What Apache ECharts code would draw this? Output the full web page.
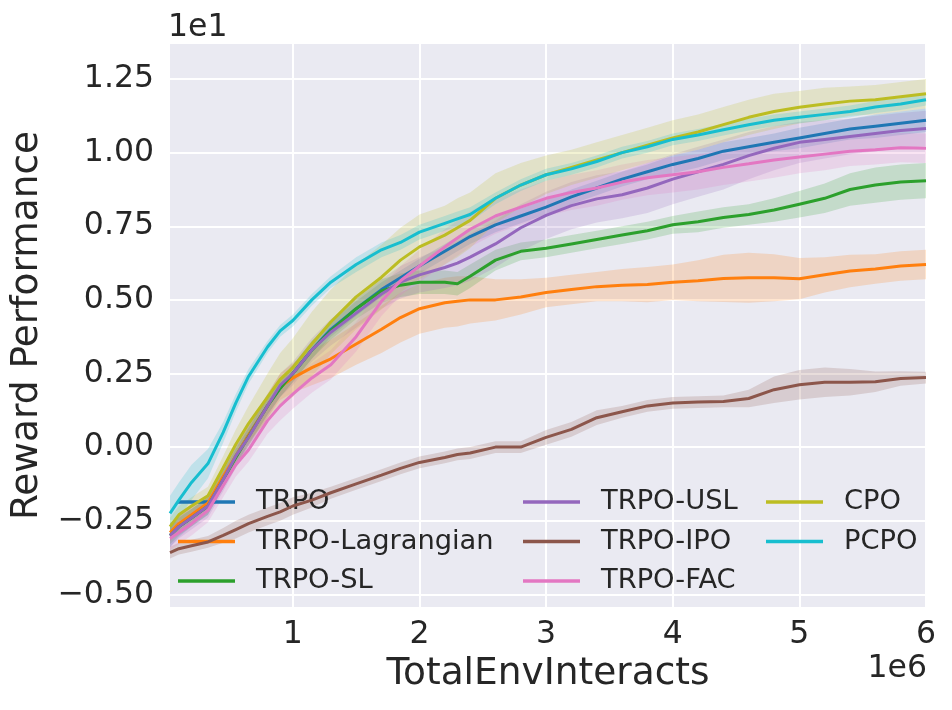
<!DOCTYPE html>
<html><head><meta charset="utf-8">
<script src="https://cdn.jsdelivr.net/npm/echarts@6/dist/echarts.min.js"></script>
<style>html,body{margin:0;padding:0;background:#fff}#c{width:952px;height:710px}</style>
</head><body><div id="c"></div>
<script>
// x positions in units of 1e6 env interacts
const steps = [0.03,0.1,0.2,0.33,0.45,0.55,0.65,0.8,0.9,1.0,1.15,1.3,1.5,1.7,1.85,2.0,2.2,2.3,2.4,2.6,2.8,3.0,3.2,3.4,3.6,3.8,4.0,4.2,4.4,4.6,4.8,5.0,5.2,5.4,5.6,5.8,6.0];
// reward values in units of 1e1
const trpo = [-0.30,-0.27,-0.24,-0.20,-0.11,-0.03,0.04,0.14,0.20,0.25,0.33,0.40,0.47,0.535,0.575,0.615,0.665,0.69,0.715,0.755,0.785,0.815,0.85,0.88,0.91,0.935,0.96,0.98,1.005,1.02,1.035,1.05,1.065,1.08,1.09,1.10,1.11];
const trpoSpread = [0.04,0.035,0.03,0.03,0.03,0.03,0.03,0.03,0.03,0.03,0.03,0.025,0.025,0.025,0.025,0.025,0.025,0.025,0.025,0.025,0.025,0.025,0.025,0.025,0.025,0.025,0.03,0.03,0.03,0.03,0.03,0.035,0.035,0.035,0.04,0.04,0.04];
const lagrangian = [-0.29,-0.26,-0.23,-0.19,-0.10,-0.03,0.04,0.14,0.205,0.235,0.27,0.30,0.35,0.40,0.44,0.47,0.49,0.495,0.50,0.50,0.51,0.525,0.535,0.545,0.55,0.552,0.56,0.565,0.573,0.575,0.575,0.572,0.585,0.598,0.605,0.615,0.62];
const lagrangianSpread = [0.03,0.03,0.03,0.03,0.03,0.03,0.035,0.04,0.045,0.05,0.06,0.065,0.07,0.08,0.085,0.085,0.085,0.085,0.08,0.07,0.06,0.05,0.05,0.05,0.055,0.06,0.06,0.07,0.08,0.085,0.08,0.07,0.06,0.055,0.05,0.05,0.05];
const sl = [-0.30,-0.27,-0.24,-0.20,-0.11,-0.035,0.035,0.14,0.20,0.25,0.33,0.395,0.47,0.53,0.55,0.56,0.56,0.555,0.58,0.635,0.665,0.675,0.69,0.705,0.72,0.735,0.755,0.765,0.78,0.79,0.805,0.825,0.845,0.875,0.89,0.90,0.905];
const slSpread = [0.03,0.03,0.03,0.03,0.03,0.03,0.03,0.03,0.03,0.03,0.03,0.03,0.035,0.04,0.04,0.04,0.04,0.04,0.04,0.035,0.03,0.03,0.03,0.03,0.03,0.03,0.03,0.035,0.035,0.035,0.04,0.045,0.05,0.055,0.06,0.06,0.06];
const usl = [-0.30,-0.27,-0.24,-0.20,-0.11,-0.03,0.033,0.14,0.21,0.25,0.33,0.39,0.455,0.52,0.56,0.585,0.61,0.625,0.645,0.69,0.745,0.787,0.82,0.843,0.857,0.88,0.91,0.935,0.96,0.99,1.015,1.035,1.045,1.055,1.065,1.075,1.082];
const uslSpread = [0.04,0.04,0.04,0.04,0.04,0.04,0.04,0.04,0.04,0.04,0.04,0.045,0.05,0.05,0.055,0.06,0.07,0.075,0.08,0.08,0.08,0.08,0.08,0.08,0.08,0.085,0.085,0.085,0.085,0.08,0.075,0.07,0.065,0.06,0.06,0.06,0.06];
const ipo = [-0.358,-0.345,-0.335,-0.322,-0.30,-0.28,-0.26,-0.235,-0.22,-0.20,-0.18,-0.155,-0.125,-0.095,-0.072,-0.052,-0.035,-0.025,-0.02,0.0,0.0,0.033,0.06,0.10,0.12,0.14,0.15,0.153,0.155,0.165,0.195,0.212,0.22,0.22,0.222,0.233,0.236];
const ipoSpread = [0.02,0.02,0.02,0.02,0.025,0.03,0.03,0.03,0.03,0.03,0.025,0.02,0.02,0.02,0.02,0.02,0.02,0.02,0.02,0.02,0.02,0.025,0.025,0.025,0.02,0.02,0.02,0.02,0.02,0.03,0.045,0.05,0.05,0.045,0.035,0.025,0.02];
const fac = [-0.31,-0.29,-0.26,-0.215,-0.13,-0.06,-0.01,0.09,0.14,0.18,0.235,0.28,0.375,0.495,0.565,0.615,0.68,0.71,0.74,0.785,0.815,0.845,0.865,0.88,0.90,0.915,0.925,0.935,0.95,0.962,0.975,0.985,0.995,1.005,1.01,1.017,1.015];
const facSpread = [0.04,0.04,0.04,0.04,0.04,0.04,0.04,0.045,0.05,0.05,0.05,0.05,0.05,0.05,0.05,0.055,0.06,0.06,0.06,0.06,0.06,0.06,0.06,0.06,0.06,0.06,0.06,0.06,0.06,0.06,0.06,0.055,0.055,0.05,0.05,0.05,0.05];
const cpo = [-0.27,-0.23,-0.20,-0.165,-0.07,0.01,0.08,0.17,0.23,0.27,0.35,0.425,0.51,0.577,0.635,0.68,0.72,0.745,0.77,0.845,0.89,0.925,0.95,0.975,1.0,1.025,1.05,1.07,1.095,1.12,1.14,1.154,1.165,1.175,1.18,1.19,1.20];
const cpoSpread = [0.03,0.03,0.03,0.03,0.04,0.05,0.06,0.08,0.09,0.1,0.11,0.11,0.11,0.11,0.11,0.11,0.1,0.1,0.095,0.085,0.075,0.065,0.06,0.06,0.06,0.06,0.06,0.06,0.06,0.06,0.06,0.055,0.055,0.05,0.05,0.05,0.05];
const pcpo = [-0.225,-0.18,-0.12,-0.056,0.05,0.15,0.24,0.34,0.395,0.43,0.50,0.56,0.62,0.67,0.695,0.73,0.76,0.775,0.79,0.845,0.89,0.925,0.945,0.97,1.0,1.02,1.045,1.06,1.078,1.095,1.11,1.12,1.13,1.14,1.155,1.165,1.18];
const pcpoSpread = [0.06,0.06,0.06,0.05,0.035,0.03,0.025,0.02,0.02,0.02,0.02,0.02,0.025,0.025,0.025,0.025,0.025,0.025,0.025,0.02,0.02,0.02,0.02,0.02,0.02,0.02,0.02,0.02,0.02,0.02,0.02,0.02,0.02,0.02,0.02,0.02,0.02];

const names = ['TRPO','TRPO-Lagrangian','TRPO-SL','TRPO-USL','TRPO-IPO','TRPO-FAC','CPO','PCPO'];
const means = [trpo, lagrangian, sl, usl, ipo, fac, cpo, pcpo];
const spreads = [trpoSpread, lagrangianSpread, slSpread, uslSpread, ipoSpread, facSpread, cpoSpread, pcpoSpread];
const colors = ['#1f77b4','#ff7f0e','#2ca02c','#9467bd','#8c564b','#e377c2','#bcbd22','#17becf'];
const yTicks = [-0.5,-0.25,0,0.25,0.5,0.75,1,1.25];
const xTicks = [1,2,3,4,5,6];

const FONT = 'DejaVu Sans';
const TXT = '#262626';

function rgba(hex, a) {
  const n = parseInt(hex.slice(1), 16);
  return 'rgba(' + ((n >> 16) & 255) + ',' + ((n >> 8) & 255) + ',' + (n & 255) + ',' + a + ')';
}

const series = [];
names.forEach((name, i) => {
  const rows = steps.map((x, k) => [x, means[i][k] - spreads[i][k], means[i][k] + spreads[i][k]]);
  series.push({
    type: 'custom', name: name + ' band', data: rows, silent: true, z: 1, clip: true,
    encode: { x: 0, y: [1, 2] },
    renderItem: function (params, api) {
      if (params.dataIndex !== 0) return null;
      const pts = [];
      for (let k = 0; k < rows.length; k++) pts.push(api.coord([rows[k][0], rows[k][2]]));
      for (let k = rows.length - 1; k >= 0; k--) pts.push(api.coord([rows[k][0], rows[k][1]]));
      return { type: 'polygon', shape: { points: pts }, style: { fill: rgba(colors[i], 0.2) } };
    }
  });
});
names.forEach((name, i) => {
  series.push({
    type: 'line', name: name, data: steps.map((x, k) => [x, means[i][k]]),
    symbol: 'none', z: 3 + i, clip: true,
    lineStyle: { width: 3, color: colors[i] }, itemStyle: { color: colors[i] },
    emphasis: { disabled: true }
  });
});

const legendCommon = {
  orient: 'vertical', icon: 'rect', itemWidth: 57, itemHeight: 3.5, itemGap: 9.5, padding: 0,
  selectedMode: false,
  textStyle: { fontFamily: FONT, fontSize: 27.3, lineHeight: 30, color: TXT, padding: [0, 0, 0, 16] }
};

const chart = echarts.init(document.getElementById('c'), null, { renderer: 'canvas' });
chart.setOption({
  animation: false,
  backgroundColor: '#ffffff',
  grid: { left: 170, right: 26, top: 44, bottom: 103, show: true, backgroundColor: '#EAEAF2', borderWidth: 0 },
  xAxis: {
    type: 'value', min: 0.03, max: 6,
    name: 'TotalEnvInteracts', nameLocation: 'middle', nameGap: 48,
    nameTextStyle: { fontFamily: FONT, fontSize: 37.5, lineHeight: 37.5, color: TXT },
    axisLine: { show: false }, axisTick: { show: false, customValues: xTicks },
    axisLabel: { customValues: xTicks, margin: 12, fontFamily: FONT, fontSize: 31.5, lineHeight: 31.5, color: TXT,
      formatter: v => String(v) },
    splitLine: { show: true, customValues: xTicks, lineStyle: { color: '#ffffff', width: 2 } }
  },
  yAxis: {
    type: 'value', min: -0.543, max: 1.369,
    name: 'Reward Performance', nameLocation: 'middle', nameGap: 116,
    nameTextStyle: { fontFamily: FONT, fontSize: 37.5, lineHeight: 37.5, color: TXT },
    axisLine: { show: false }, axisTick: { show: false, customValues: yTicks },
    axisLabel: { customValues: yTicks, margin: 16, fontFamily: FONT, fontSize: 31.5, lineHeight: 31.5, color: TXT,
      formatter: v => v.toFixed(2).replace('-', '\u2212') },
    splitLine: { show: true, customValues: yTicks, lineStyle: { color: '#ffffff', width: 2 } }
  },
  legend: [
    Object.assign({}, legendCommon, { data: names.slice(0, 3), left: 178, top: 487 }),
    Object.assign({}, legendCommon, { data: names.slice(3, 6), left: 523, top: 487 }),
    Object.assign({}, legendCommon, { data: names.slice(6, 8), left: 766, top: 487 })
  ],
  graphic: [
    { type: 'text', left: 168, top: 12, style: { text: '1e1', fontFamily: FONT, fontSize: 31.5, fill: TXT } },
    { type: 'text', right: 25, top: 653, style: { text: '1e6', fontFamily: FONT, fontSize: 31.5, fill: TXT } }
  ],
  series: series
});
</script>
</body></html>
